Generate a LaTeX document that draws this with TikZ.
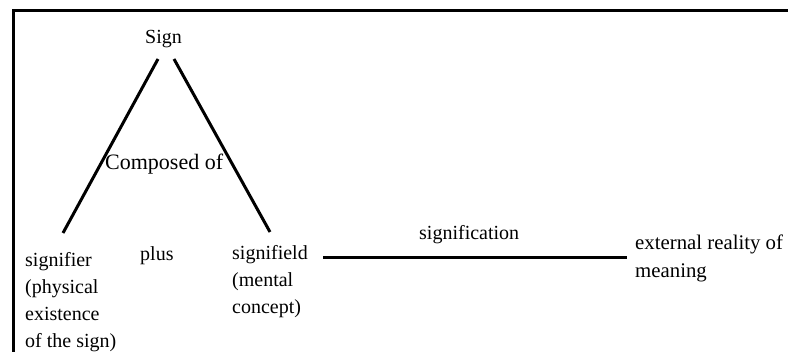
\documentclass[tikz,border=0pt]{standalone}
\usepackage{fontspec}
\setmainfont{Liberation Serif}
\begin{document}
\begin{tikzpicture}[x=1pt,y=-1pt,
  lbl/.style={inner sep=0pt,anchor=base west,align=left,font=\fontsize{20}{27}\selectfont},
  thick line/.style={line width=3pt,line cap=butt}]
\useasboundingbox (0,0) rectangle (788,352);
% frame
\draw[line width=3pt] (13.5,352) -- (13.5,10.5) -- (788,10.5);
% texts (base anchor = baseline of the last line)
\node[lbl] (sign) at (145,44) {Sign};
\node[lbl,font=\fontsize{22}{27}\selectfont] (comp) at (105,170) {Composed of};
\node[lbl] (plus) at (140,261) {plus};
\node[lbl] (signifier) at (25,348) {signifier\\(physical\\existence\\of the sign)};
\node[lbl] (signified) at (232,314) {signifield\\(mental\\concept)};
\node[lbl] (signif) at (419,240) {signification};
\node[lbl,font=\fontsize{20.8}{27.5}\selectfont] (ext) at (635,277.5) {external reality of\\meaning};
% connector ends
\coordinate (a1) at (158,59);
\coordinate (a2) at (63,233);
\coordinate (b1) at (174,59);
\coordinate (b2) at (270,232);
\coordinate (c1) at (323,258);
\coordinate (c2) at (627,258);
\draw[thick line] (a1) -- (a2);
\draw[thick line] (b1) -- (b2);
\draw[thick line] (c1) -- (c2);
\end{tikzpicture}
\end{document}
